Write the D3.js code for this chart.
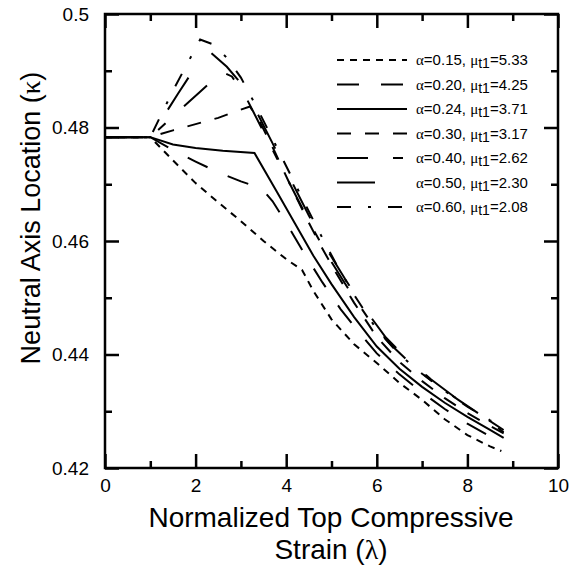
<!DOCTYPE html>
<html>
<head>
<meta charset="utf-8">
<script src="https://cdn.jsdelivr.net/npm/d3@7"></script>
<style>
  body { margin: 0; background: #fff; }
  text { font-family: "Liberation Sans", Arial, sans-serif; fill: #000; }
  .greek { font-family: "Liberation Serif", "DejaVu Serif", serif; }
</style>
</head>
<body>
<div id="chart"></div>
<script>
// legend labels
var alphas = ["0.15", "0.20", "0.24", "0.30", "0.40", "0.50", "0.60"]
var mus = ["5.33", "4.25", "3.71", "3.17", "2.62", "2.30", "2.08"]

// curves (lambda, kappa)
var lam015 = [0, 1.0, 1.5, 2.0, 2.5, 3.0, 3.5, 4.0, 4.35, 4.6, 5.0, 5.5, 6.0, 6.5, 7.0, 7.5, 8.0, 8.5, 8.75]
var kap015 = [0.4783, 0.4783, 0.4742, 0.4702, 0.4668, 0.4635, 0.4600, 0.4568, 0.4549, 0.4512, 0.4462, 0.4418, 0.4385, 0.4350, 0.4320, 0.4286, 0.4258, 0.4238, 0.4230]

var lam020 = [0, 1.0, 1.5, 2.0, 2.5, 3.0, 3.45, 3.7, 4.0, 4.4, 4.8, 5.2, 5.6, 6.0, 6.5, 7.0, 7.5, 8.0, 8.5, 8.8]
var kap020 = [0.4783, 0.4783, 0.4760, 0.4740, 0.4721, 0.4705, 0.4693, 0.4670, 0.4632, 0.4578, 0.4527, 0.4480, 0.4440, 0.4402, 0.4365, 0.4333, 0.4304, 0.4278, 0.4256, 0.4244]

var lam024 = [0, 1.0, 1.5, 2.0, 2.6, 3.3, 3.8, 4.2, 4.6, 5.0, 5.5, 6.0, 6.5, 7.0, 7.5, 8.0, 8.5, 8.8]
var kap024 = [0.4783, 0.4783, 0.4770, 0.4764, 0.4759, 0.4755, 0.4686, 0.4630, 0.4574, 0.4524, 0.4466, 0.4414, 0.4375, 0.4343, 0.4315, 0.4290, 0.4267, 0.4253]

var lam030 = [0, 1.0, 1.5, 2.0, 2.5, 2.8, 3.2, 3.45, 3.75, 4.1, 4.45, 4.76, 5.1, 5.5, 6.0, 6.5, 7.0, 7.5, 8.0, 8.5, 8.8]
var kap030 = [0.4783, 0.4783, 0.4795, 0.4806, 0.4817, 0.4826, 0.4837, 0.4805, 0.4757, 0.4697, 0.4640, 0.4592, 0.4544, 0.4491, 0.4431, 0.4387, 0.4353, 0.4323, 0.4297, 0.4274, 0.4261]

var lam040 = [0, 1.0, 1.6, 2.1, 2.58, 2.8, 3.1, 3.4, 3.8, 4.2, 4.6, 5.0, 5.4, 5.8, 6.3, 6.8, 7.3, 7.8, 8.3, 8.8]
var kap040 = [0.4783, 0.4783, 0.4827, 0.4863, 0.4898, 0.4890, 0.4855, 0.4808, 0.4745, 0.4682, 0.4620, 0.4563, 0.4512, 0.4465, 0.4418, 0.4380, 0.4348, 0.4320, 0.4293, 0.4263]

var lam050 = [0, 1.0, 1.6, 2.25, 2.69, 3.0, 3.3, 3.7, 4.1, 4.5, 4.9, 5.3, 5.7, 6.2, 6.7, 7.2, 7.7, 8.2, 8.8]
var kap050 = [0.4783, 0.4783, 0.4858, 0.4938, 0.4907, 0.4878, 0.4835, 0.4772, 0.4708, 0.4645, 0.4585, 0.4533, 0.4484, 0.4430, 0.4390, 0.4356, 0.4326, 0.4298, 0.4267]

var lam060 = [0, 1.0, 1.5, 2.1, 2.4, 2.7, 3.0, 3.3, 3.7, 4.1, 4.45, 4.8, 5.1, 5.5, 6.0, 6.5, 7.0, 7.5, 8.0, 8.5, 8.8]
var kap060 = [0.4783, 0.4783, 0.4865, 0.4955, 0.4946, 0.4922, 0.4888, 0.4843, 0.4780, 0.4716, 0.4660, 0.4605, 0.4560, 0.4505, 0.4444, 0.4400, 0.4366, 0.4336, 0.4308, 0.4284, 0.4271]

// axis ticks
var xMajor = [0, 2, 4, 6, 8, 10]
var xMinor = [1, 3, 5, 7, 9]
var yMajor = [0.42, 0.44, 0.46, 0.48, 0.5]
var yMinor = [0.43, 0.45, 0.47, 0.49]

var lams = [lam015, lam020, lam024, lam030, lam040, lam050, lam060]
var kaps = [kap015, kap020, kap024, kap030, kap040, kap050, kap060]
// line styles, one per series
var dashes = ["7,6", "22,22", null, "14,14", "31,25,10,25", "38,40", "14,17,3,17"]

var w = 573, h = 570
var pLeft = 105, pRight = 558, pTop = 14, pBottom = 468

var svg = d3.select('#chart').append('svg')
    .attr('width', w)
    .attr('height', h)

var x = d3.scaleLinear().domain([0, 10]).range([pLeft, pRight])
var y = d3.scaleLinear().domain([0.42, 0.5]).range([pBottom, pTop])

// ticks, all pointing inward
function axisGroup(axis, tx, ty){
  var g = svg.append('g').attr('transform', 'translate(' + tx + ',' + ty + ')').call(axis)
  g.select('.domain').remove()
  g.selectAll('line').attr('stroke', '#000').attr('stroke-width', 2.5)
  g.selectAll('text').attr('font-size', 19).attr('font-family', '"Liberation Sans", Arial, sans-serif')
  return g
}
var fmtY = function(d){ return d == 0.5 ? "0.5" : d3.format('.2f')(d) }

axisGroup(d3.axisBottom(x).tickValues(xMajor).tickSize(-14).tickPadding(11).tickFormat(d3.format('d')), 0, pBottom)
axisGroup(d3.axisBottom(x).tickValues(xMinor).tickSize(-7).tickFormat(''), 0, pBottom)
axisGroup(d3.axisTop(x).tickValues(xMajor).tickSize(-14).tickFormat(''), 0, pTop)
axisGroup(d3.axisTop(x).tickValues(xMinor).tickSize(-7).tickFormat(''), 0, pTop)
axisGroup(d3.axisLeft(y).tickValues(yMajor).tickSize(-14).tickPadding(16).tickFormat(fmtY), pLeft, 0)
axisGroup(d3.axisLeft(y).tickValues(yMinor).tickSize(-7).tickFormat(''), pLeft, 0)
axisGroup(d3.axisRight(y).tickValues(yMajor).tickSize(-14).tickFormat(''), pRight, 0)
axisGroup(d3.axisRight(y).tickValues(yMinor).tickSize(-7).tickFormat(''), pRight, 0)

svg.append('rect')
    .attr('x', pLeft).attr('y', pTop)
    .attr('width', pRight - pLeft).attr('height', pBottom - pTop)
    .attr('fill', 'none').attr('stroke', '#000').attr('stroke-width', 2.5)

// curves
var line = d3.line()
    .x(function(d){ return x(d[0]) })
    .y(function(d){ return y(d[1]) })

svg.selectAll('path.curve')
    .data(lams.map(function(l, i){ return d3.zip(l, kaps[i]) }))
    .enter()
    .append('path')
    .attr('class', 'curve')
    .attr('d', line)
    .attr('fill', 'none')
    .attr('stroke', '#000')
    .attr('stroke-width', 2)
    .attr('stroke-dasharray', function(d, i){ return dashes[i] })

// legend
var leg = svg.append('g')
var rowY = function(i){ return 60 + i * 24.5 }
leg.selectAll('line')
    .data(alphas)
    .enter()
    .append('line')
    .attr('x1', 337).attr('x2', 407)
    .attr('y1', function(d, i){ return rowY(i) })
    .attr('y2', function(d, i){ return rowY(i) })
    .attr('stroke', '#000')
    .attr('stroke-width', 2.2)
    .attr('stroke-dasharray', function(d, i){ return dashes[i] })

var lt = leg.selectAll('text')
    .data(alphas)
    .enter()
    .append('text')
    .attr('x', 416)
    .attr('y', function(d, i){ return rowY(i) + 5 })
    .attr('font-size', 15)
lt.append('tspan').attr('class', 'greek').text('\u03b1')
lt.append('tspan').text(function(d){ return '=' + d + ', ' })
lt.append('tspan').attr('class', 'greek').text('\u03bc')
lt.append('tspan').attr('dy', 3).attr('font-size', 14).text('t1')
lt.append('tspan').attr('dy', -3).text(function(d, i){ return '=' + mus[i] })

// axis titles
var yt = svg.append('text')
    .attr('transform', 'translate(40,' + 218 + ') rotate(-90)')
    .attr('text-anchor', 'middle')
    .attr('font-size', 27)
yt.append('tspan').text('Neutral Axis Location (')
yt.append('tspan').attr('class', 'greek').text('\u03ba')
yt.append('tspan').text(')')

svg.append('text')
    .attr('x', 331).attr('y', 527)
    .attr('text-anchor', 'middle')
    .attr('font-size', 28)
    .text('Normalized Top Compressive')
var xt = svg.append('text')
    .attr('x', 331).attr('y', 559)
    .attr('text-anchor', 'middle')
    .attr('font-size', 28)
xt.append('tspan').text('Strain (')
xt.append('tspan').attr('class', 'greek').text('\u03bb')
xt.append('tspan').text(')')
</script>
</body>
</html>
